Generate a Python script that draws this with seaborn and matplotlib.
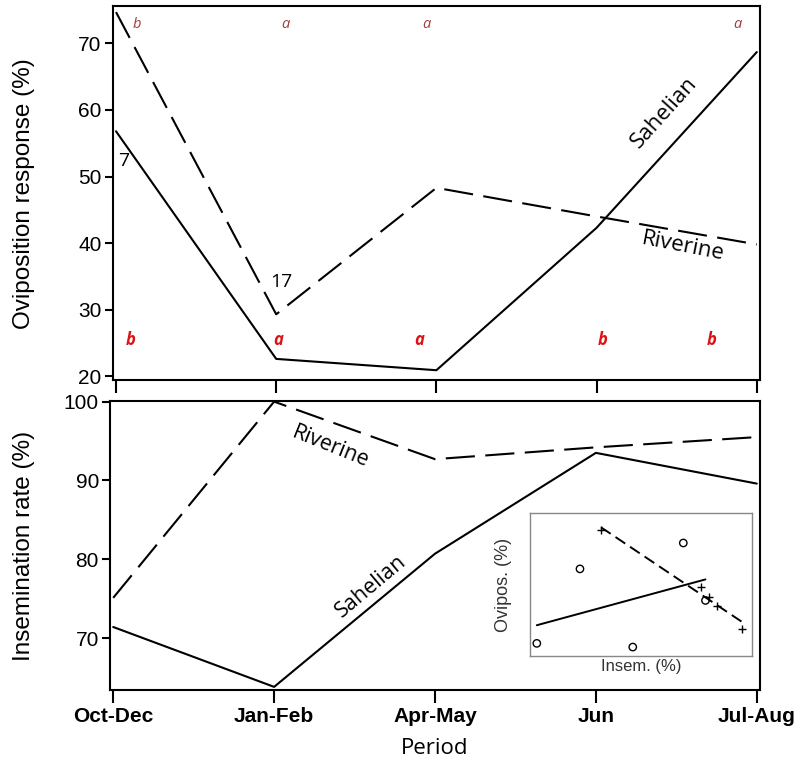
import pandas as pd
import matplotlib.pyplot as plt
import seaborn as sns

# -------------------- Data --------------------

periods = ["Oct-Dec", "Jan-Feb", "Apr-May", "Jun", "Jul-Aug"]
ovi_sahelian = [56.8, 22.6, 20.9, 42.3, 68.7]
ovi_riverine = [74.7, 29.3, 48.3, 44.0, 39.8]
ins_sahelian = [71.4, 63.8, 80.7, 93.5, 89.6]
ins_riverine = [75.1, 100.0, 92.7, 94.2, 95.5]

top_letters = ["b", "a", "a", "a"]
bottom_letters = ["b", "a", "a", "b", "b"]

pos = list(range(len(periods)))
df = pd.DataFrame({
    "pos": pos * 2,
    "pop": ["Sahelian"] * 5 + ["Riverine"] * 5,
    "ovi": ovi_sahelian + ovi_riverine,
    "ins": ins_sahelian + ins_riverine,
})

# -------------------- Figure --------------------

sns.set_style("ticks", {"text.color": "black", "axes.labelcolor": "black",
                        "xtick.color": "black", "ytick.color": "black",
                        "axes.edgecolor": "black"})
plt.rcParams["font.family"] = ["Liberation Sans", "DejaVu Sans"]
plt.rcParams["axes.linewidth"] = 1.5

fig = plt.figure(figsize=(8, 7.65), dpi=100)
ax1 = fig.add_axes([0.141, 0.503, 0.809, 0.489])
ax2 = fig.add_axes([0.1375, 0.098, 0.8125, 0.378])

dash_map = {"Sahelian": "", "Riverine": (14, 5)}
for ax, col in [(ax1, "ovi"), (ax2, "ins")]:
    sns.lineplot(data=df, x="pos", y=col, style="pop", dashes=dash_map,
                 color="black", lw=1.5, legend=False, ax=ax)
    ax.set_xlim(-0.02, 4.02)
    ax.set_xlabel("")
    for s in ax.spines.values():
        s.set_visible(True)
        s.set_linewidth(1.5)
    ax.tick_params(axis="both", direction="out", width=1.5, labelsize=15)
    ax.tick_params(axis="y", length=6, pad=2)
    ax.tick_params(axis="x", length=9)

ann_font = ["Open Sans", "DejaVu Sans"]

# top panel
ax1.set_ylim(19.4, 75.6)
ax1.set_yticks([20, 30, 40, 50, 60, 70])
ax1.set_xticks(pos)
ax1.set_xticklabels([])
ax1.set_ylabel("Oviposition response (%)", fontsize=17.5)
ax1.yaxis.set_label_coords(-0.12, 0.5)

for lx, t in zip([0.13, 1.06, 1.94, 3.88], top_letters):
    ax1.text(lx, 72.9, t, color="#a33b3b", fontsize=10.5, style="italic",
             ha="center", va="center", family=ann_font)
for lx, t in zip([0.09, 1.01, 1.89, 3.04, 3.72], bottom_letters):
    ax1.text(lx, 25.4, t, color="#dd1111", fontsize=12, style="italic",
             weight="bold", ha="center", va="center", family=ann_font)

ax1.text(0.05, 52.3, "7", fontsize=14, ha="center", va="center", family=ann_font)
ax1.text(1.03, 34.1, "17", fontsize=14, ha="center", va="center", family=ann_font)
ax1.text(3.42, 59.6, "Sahelian", fontsize=16, rotation=48, ha="center",
         va="center", family=ann_font, rotation_mode="anchor")
ax1.text(3.54, 39.4, "Riverine", fontsize=16, rotation=-11, ha="center",
         va="center", family=ann_font, rotation_mode="anchor")

# bottom panel
ax2.set_ylim(63.4, 100.1)
ax2.set_yticks([70, 80, 90, 100])
ax2.set_xticks(pos)
ax2.set_xticklabels(periods, fontsize=15, weight="bold",
                    family=["Liberation Sans Narrow", "Liberation Sans"])
ax2.set_ylabel("Insemination rate (%)", fontsize=17.5)
ax2.yaxis.set_label_coords(-0.115, 0.5)
ax2.set_xlabel("Period", fontsize=16, family=ann_font, labelpad=8)

ax2.text(1.35, 94.2, "Riverine", fontsize=15.5, rotation=-22, ha="center",
         va="center", family=ann_font, rotation_mode="anchor")
ax2.text(1.6, 76.6, "Sahelian", fontsize=15.5, rotation=40, ha="center",
         va="center", family=ann_font, rotation_mode="anchor")

# inset: oviposition vs insemination
axin = fig.add_axes([0.6625, 0.1425, 0.2775, 0.187])
sns.regplot(x=ins_sahelian, y=ovi_sahelian, ci=None, scatter=False,
            line_kws=dict(color="black", lw=1.4), ax=axin)
sns.regplot(x=ins_riverine, y=ovi_riverine, ci=None, scatter=False,
            line_kws=dict(color="black", lw=1.4, dashes=(6, 3)), ax=axin)
sns.scatterplot(x=ins_sahelian, y=ovi_sahelian, marker="o", s=28,
                facecolors="none", edgecolor="black", linewidth=1, ax=axin)
sns.scatterplot(x=ins_riverine, y=ovi_riverine, marker="+", s=40,
                color="black", linewidth=1, ax=axin)
axin.set_xlim(62.6, 101.7)
axin.set_ylim(16.8, 82.5)
axin.set_xticks([])
axin.set_yticks([])
for s in axin.spines.values():
    s.set_color("#888888")
    s.set_linewidth(1)
axin.set_xlabel("Insem. (%)", fontsize=12, color="#333333", labelpad=2)
axin.set_ylabel("Ovipos. (%)", fontsize=13, color="#333333", labelpad=13)

fig.savefig("out.png", dpi=100)
